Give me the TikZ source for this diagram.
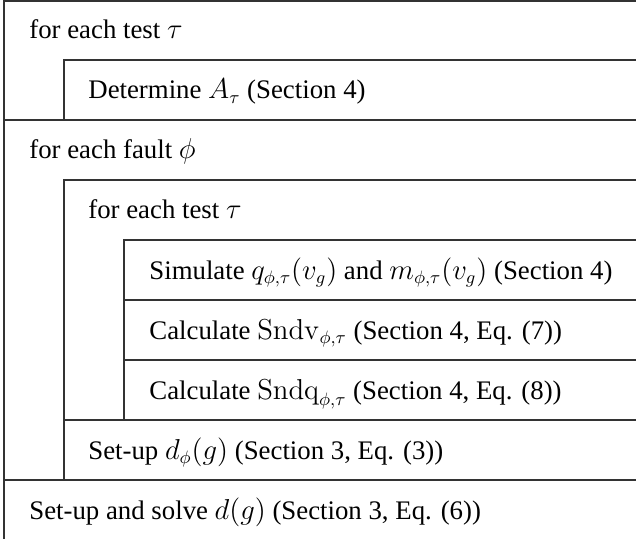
\documentclass[tikz,border=0pt]{standalone}
\usepackage[no-math]{fontspec}
\setmainfont{Liberation Serif}

\begin{document}
\begin{tikzpicture}[x=0.5pt, y=-0.5pt]
        \tikzstyle{stmt} = [anchor=base west, inner sep=0pt, font=\fontsize{13.4}{16}\selectfont]
        \tikzstyle{frame} = [draw=black!80, line width=0.7pt]

        \useasboundingbox (0,0) rectangle (636,539);

        % outer loop over tests
        \node (loopa) [stmt] at (29,39) {for each test $\tau$};
        \node (deta) [stmt] at (88,99) {Determine $A_\tau$ (Section 4)};
        % loop over faults
        \node (loopf) [stmt] at (29,159) {for each fault $\phi$};
        \node (loopb) [stmt] at (88,219) {for each test $\tau$};
        \node (simq) [stmt] at (149,279) {Simulate $q_{\phi,\tau}(v_g)$ and $m_{\phi,\tau}(v_g)$ (Section 4)};
        \node (calcv) [stmt] at (149,339) {Calculate $\mathrm{Sndv}_{\phi,\tau}$ (Section 4, Eq. (7))};
        \node (calcq) [stmt] at (149,399) {Calculate $\mathrm{Sndq}_{\phi,\tau}$ (Section 4, Eq. (8))};
        \node (setd) [stmt] at (88,459) {Set-up $d_\phi(g)$ (Section 3, Eq. (3))};
        \node (solve) [stmt] at (29,519) {Set-up and solve $d(g)$ (Section 3, Eq. (6))};

        % block outlines
        \draw [frame] (636,1) -- (4,1) -- (4,539);
        \draw [frame] (636,60) -- (64,60) -- (64,120);
        \draw [frame] (4,120) -- (636,120);
        \draw [frame] (636,180) -- (64,180) -- (64,480);
        \draw [frame] (636,240) -- (124,240) -- (124,420);
        \draw [frame] (124,300) -- (636,300);
        \draw [frame] (124,360) -- (636,360);
        \draw [frame] (64,420) -- (636,420);
        \draw [frame] (4,480) -- (636,480);
    \end{tikzpicture}
\end{document}
